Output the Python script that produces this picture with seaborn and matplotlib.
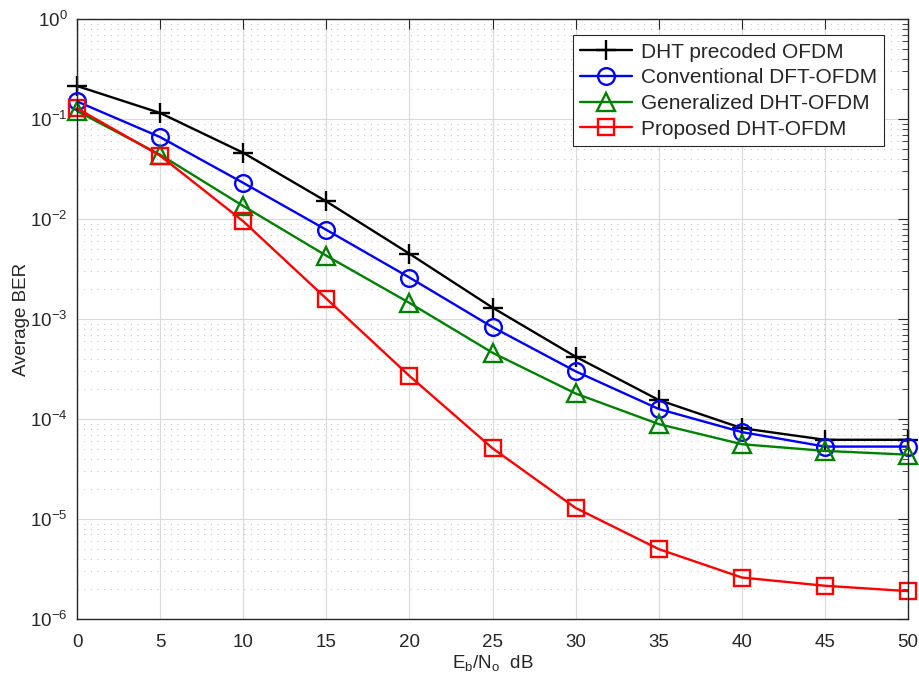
import numpy as np
import pandas as pd
import seaborn as sns
import matplotlib.pyplot as plt
from matplotlib.ticker import LogLocator, NullFormatter, MultipleLocator

snr = [0, 5, 10, 15, 20, 25, 30, 35, 40, 45, 50]

ber_dht_precoded = [0.214, 0.115, 0.046, 0.015, 0.0045, 0.0013, 4.2e-4, 1.55e-4, 8.1e-5, 6.2e-5, 6.2e-5]
ber_conv_dft = [0.15, 0.066, 0.023, 0.0078, 0.0026, 8.3e-4, 3.0e-4, 1.26e-4, 7.4e-5, 5.3e-5, 5.3e-5]
ber_gen_dht = [0.12, 0.044, 0.0135, 0.0043, 0.00145, 4.6e-4, 1.8e-4, 8.9e-5, 5.6e-5, 4.8e-5, 4.4e-5]
ber_proposed = [0.128, 0.043, 0.0095, 0.0016, 2.7e-4, 5.1e-5, 1.29e-5, 5.0e-6, 2.6e-6, 2.15e-6, 1.9e-6]

names = ['DHT precoded OFDM', 'Conventional DFT-OFDM', 'Generalized DHT-OFDM', 'Proposed DHT-OFDM']
colors = ['black', (0, 0, 1), (0, 0.5, 0), (1, 0, 0)]
markers = ['+', 'o', '^', 's']
sizes = [15, 12, 13, 11]

df = pd.DataFrame({
    'snr': snr * 4,
    'ber': ber_dht_precoded + ber_conv_dft + ber_gen_dht + ber_proposed,
    'scheme': np.repeat(names, len(snr)),
})

sns.set_style('white')
plt.rcParams['font.family'] = ['Liberation Sans', 'DejaVu Sans']
plt.rcParams['mathtext.fontset'] = 'custom'
plt.rcParams['mathtext.rm'] = 'Liberation Sans'
plt.rcParams['mathtext.it'] = 'Liberation Sans:italic'

fig = plt.figure(figsize=(9.2, 6.8), dpi=100)
ax = fig.add_axes([0.0837, 0.0897, 0.9033, 0.8823])

for name, c, m, s in zip(names, colors, markers, sizes):
    sub = df[df['scheme'] == name]
    sns.lineplot(data=sub, x='snr', y='ber', ax=ax, color=c, label=name,
                 marker=m, markersize=s, mfc='none', mec=c, mew=1.7, lw=1.7,
                 clip_on=False)

ax.set_yscale('log')
ax.set_xlim(0, 50)
ax.set_ylim(1e-6, 1)
ax.xaxis.set_major_locator(MultipleLocator(5))
ax.yaxis.set_major_locator(LogLocator(base=10, numticks=10))
ax.yaxis.set_minor_locator(LogLocator(base=10, subs=np.arange(2, 10), numticks=20))
ax.yaxis.set_minor_formatter(NullFormatter())

ax.grid(which='major', color='0.85', lw=0.8, ls='-')
ax.grid(which='minor', axis='y', color='0.78', lw=0.8, ls=(0, (1, 5)))
ax.set_axisbelow(True)

ax.tick_params(which='both', direction='in', top=True, right=True, colors='0.15', labelsize=13.5)
ax.tick_params(which='major', length=7, width=0.8, pad=7)
ax.tick_params(axis='x', which='major', pad=11)
ax.tick_params(which='minor', length=4, width=0.6)
for sp in ax.spines.values():
    sp.set_color('0.15')
    sp.set_linewidth(1.0)

ax.set_xlabel(r'$\mathregular{E_b/N_o}$  dB', fontsize=13.5, color='0.15', labelpad=1)
ax.set_ylabel('Average BER', fontsize=13.5, color='0.15', labelpad=0)

leg = ax.legend(loc='upper right', bbox_to_anchor=(0.971, 0.973), fontsize=15,
                frameon=True, fancybox=False, edgecolor='0.15', framealpha=1,
                handlelength=2.5, borderpad=0.35, labelspacing=0.32, handletextpad=0.4,
                borderaxespad=0)
leg.get_frame().set_linewidth(0.8)

fig.savefig('out.png', dpi=100)
